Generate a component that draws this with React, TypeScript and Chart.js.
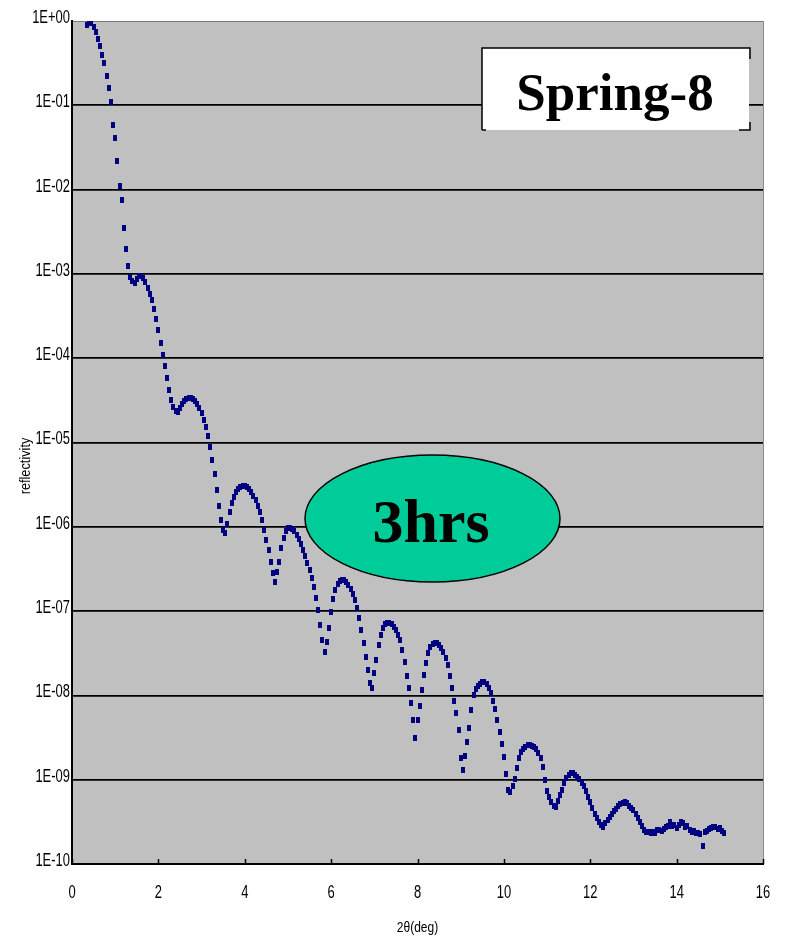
import { useEffect, useRef } from "react";
import { Chart, registerables } from "chart.js";

Chart.register(...registerables);

// Scan grid of the reflectivity measurement (degrees 2θ)
const ANGLE_START = 0.35;
const ANGLE_STEP = 0.05;

// Measured reflectivity, one row per degree of 2θ
const reflectivity: number[] = [
  // 0.35 – 0.95
  0.90, 1.0, 0.95, 0.85, 0.74, 0.61, 0.51, 0.40, 0.32, 0.22, 0.16, 0.11, 5.8e-2,
  // 1.00 – 1.95
  4.1e-2, 2.2e-2, 1.1e-2, 7.5e-3, 3.5e-3, 2.0e-3, 1.24e-3, 9.2e-4, 8.2e-4, 7.8e-4,
  8.7e-4, 9.4e-4, 9.4e-4, 8.9e-4, 8.0e-4, 6.8e-4, 5.8e-4, 4.9e-4, 3.85e-4, 2.9e-4,
  // 2.00 – 2.95
  2.17e-4, 1.52e-4, 1.1e-4, 8.1e-5, 5.8e-5, 4.2e-5, 3.2e-5, 2.64e-5, 2.37e-5, 2.3e-5,
  2.57e-5, 2.86e-5, 3.1e-5, 3.3e-5, 3.37e-5, 3.37e-5, 3.3e-5, 3.1e-5, 2.86e-5, 2.57e-5,
  // 3.00 – 3.95
  2.24e-5, 1.85e-5, 1.53e-5, 1.2e-5, 8.85e-6, 6.2e-6, 4.24e-6, 2.74e-6, 1.77e-6, 1.2e-6,
  9.2e-7, 8.45e-7, 1.08e-6, 1.5e-6, 1.92e-6, 2.26e-6, 2.6e-6, 2.81e-6, 2.97e-6, 3.05e-6,
  // 4.00 – 4.95
  3.05e-6, 2.97e-6, 2.81e-6, 2.6e-6, 2.32e-6, 2.08e-6, 1.77e-6, 1.5e-6, 1.2e-6, 9.2e-7,
  6.98e-7, 5.3e-7, 3.83e-7, 2.83e-7, 2.22e-7, 2.9e-7, 3.83e-7, 5.6e-7, 7.37e-7, 8.92e-7,
  // 5.00 – 5.95
  9.68e-7, 9.68e-7, 9.42e-7, 8.92e-7, 8.0e-7, 7.17e-7, 6.25e-7, 5.3e-7, 4.5e-7, 3.72e-7,
  3.07e-7, 2.47e-7, 1.93e-7, 1.43e-7, 1.03e-7, 6.84e-8, 4.54e-8, 3.27e-8, 4.3e-8, 6.3e-8,
  // 6.00 – 6.95
  9.75e-8, 1.39e-7, 1.78e-7, 2.1e-7, 2.27e-7, 2.34e-7, 2.34e-7, 2.22e-7, 2.04e-7, 1.83e-7,
  1.6e-7, 1.35e-7, 1.09e-7, 8.28e-8, 5.97e-8, 4.18e-8, 2.86e-8, 2.0e-8, 1.4e-8, 1.23e-8,
  // 7.00 – 7.95
  1.85e-8, 2.63e-8, 3.97e-8, 5.2e-8, 6.3e-8, 7.03e-8, 7.22e-8, 7.22e-8, 7.03e-8, 6.48e-8,
  5.97e-8, 5.2e-8, 4.54e-8, 3.45e-8, 2.49e-8, 1.7e-8, 1.23e-8, 8.12e-9, 5.1e-9, 3.12e-9,
  // 8.00 – 8.95
  5.1e-9, 7.48e-9, 1.16e-8, 1.75e-8, 2.42e-8, 3.18e-8, 3.75e-8, 4.07e-8, 4.18e-8, 4.18e-8,
  3.97e-8, 3.66e-8, 3.27e-8, 2.78e-8, 2.3e-8, 1.7e-8, 1.23e-8, 8.58e-9, 6.19e-9, 3.89e-9,
  // 9.00 – 9.95
  1.81e-9, 1.3e-9, 1.91e-9, 2.8e-9, 4.1e-9, 6.7e-9, 1.01e-8, 1.19e-8, 1.3e-8, 1.37e-8,
  1.44e-8, 1.44e-8, 1.37e-8, 1.23e-8, 1.07e-8, 8.58e-9, 6.9e-9, 5.1e-9, 3.68e-9, 2.65e-9,
  // 10.00 – 10.95
  1.86e-9, 1.17e-9, 7.55e-10, 7.15e-10, 8.4e-10, 1.02e-9, 1.38e-9, 1.81e-9, 2.14e-9, 2.32e-9,
  2.45e-9, 2.59e-9, 2.59e-9, 2.52e-9, 2.45e-9, 2.32e-9, 2.08e-9, 1.81e-9, 1.42e-9, 9.92e-10,
  // 11.00 – 11.95
  7.35e-10, 6.23e-10, 5.44e-10, 4.88e-10, 4.74e-10, 5.59e-10, 6.58e-10, 7.55e-10, 9.14e-10, 1.05e-9,
  1.14e-9, 1.2e-9, 1.2e-9, 1.14e-9, 1.08e-9, 1.02e-9, 9.14e-10, 8.4e-10, 7.35e-10, 6.23e-10,
  // 12.00 – 12.95
  5.44e-10, 4.61e-10, 3.92e-10, 3.52e-10, 3.15e-10, 2.9e-10, 2.75e-10, 3.06e-10, 3.33e-10, 3.61e-10,
  3.92e-10, 4.25e-10, 4.49e-10, 4.88e-10, 5.15e-10, 5.29e-10, 5.44e-10, 5.29e-10, 4.88e-10, 4.61e-10,
  // 13.00 – 13.95
  4.37e-10, 3.92e-10, 3.52e-10, 3.15e-10, 2.83e-10, 2.54e-10, 2.41e-10, 2.41e-10, 2.34e-10, 2.41e-10,
  2.34e-10, 2.54e-10, 2.54e-10, 2.47e-10, 2.61e-10, 2.75e-10, 2.83e-10, 3.15e-10, 2.83e-10, 2.9e-10,
  // 14.00 – 14.95
  2.68e-10, 2.9e-10, 3.15e-10, 3.06e-10, 2.75e-10, 2.83e-10, 2.54e-10, 2.41e-10, 2.47e-10, 2.34e-10,
  2.34e-10, 2.27e-10, 1.64e-10, 2.41e-10, 2.47e-10, 2.61e-10, 2.68e-10, 2.75e-10, 2.75e-10, 2.61e-10,
  // 15.00 – 15.10
  2.68e-10, 2.47e-10, 2.34e-10,
];

const X_TICKS = [0, 2, 4, 6, 8, 10, 12, 14, 16];
const Y_TICK_VALUES = [1, 1e-1, 1e-2, 1e-3, 1e-4, 1e-5, 1e-6, 1e-7, 1e-8, 1e-9, 1e-10];
const Y_TICK_LABELS = [
  "1E+00", "1E-01", "1E-02", "1E-03", "1E-04", "1E-05",
  "1E-06", "1E-07", "1E-08", "1E-09", "1E-10",
];

const X_TITLE = "2θ(deg)";
const Y_TITLE = "reflectivity";
const SOURCE_LABEL = "Spring-8";
const TIME_LABEL = "3hrs";

const SANS = "'Liberation Sans', Arial, sans-serif";
const SERIF = "'Liberation Serif', 'Times New Roman', serif";

// draws text squeezed horizontally, like the condensed axis lettering
function condensedText(
  ctx: CanvasRenderingContext2D,
  text: string,
  x: number,
  y: number,
  squeeze: number,
  align: CanvasTextAlign
) {
  ctx.save();
  ctx.translate(x, y);
  ctx.scale(squeeze, 1);
  ctx.textAlign = align;
  ctx.fillText(text, 0, 0);
  ctx.restore();
}

const frame = {
  id: "plotFrame",
  beforeDraw(chart: any) {
    const { ctx, chartArea: a } = chart;
    ctx.save();
    ctx.fillStyle = "#c0c0c0";
    ctx.fillRect(a.left, a.top, a.right - a.left, a.bottom - a.top);
    ctx.restore();
  },
  afterDraw(chart: any) {
    const { ctx, chartArea: a } = chart;
    const xs = chart.scales.x;
    const ys = chart.scales.y;
    ctx.save();

    // right edge of the plot area
    ctx.strokeStyle = "#8a8a8a";
    ctx.lineWidth = 1;
    ctx.beginPath();
    ctx.moveTo(a.right + 0.5, a.top);
    ctx.lineTo(a.right + 0.5, a.bottom);
    ctx.stroke();

    // inward tick marks on the x axis
    ctx.strokeStyle = "#000";
    ctx.lineWidth = 1.5;
    ctx.beginPath();
    X_TICKS.forEach((t) => {
      const px = Math.round(xs.getPixelForValue(t)) + 0.5;
      ctx.moveTo(px, a.bottom);
      ctx.lineTo(px, a.bottom - 5);
    });
    ctx.stroke();

    // tick labels
    ctx.fillStyle = "#000";
    ctx.textBaseline = "middle";
    ctx.font = `18px ${SANS}`;
    Y_TICK_VALUES.forEach((v, i) => {
      condensedText(ctx, Y_TICK_LABELS[i], a.left - 2, ys.getPixelForValue(v) - 3, 0.72, "right");
    });
    X_TICKS.forEach((t) => {
      condensedText(ctx, String(t), xs.getPixelForValue(t), 893, 0.72, "center");
    });

    // axis titles
    ctx.font = `15px ${SANS}`;
    condensedText(ctx, X_TITLE, (a.left + a.right) / 2, 928, 0.8, "center");
    ctx.save();
    ctx.translate(26, 466);
    ctx.rotate(-Math.PI / 2);
    condensedText(ctx, Y_TITLE, 0, 0, 0.85, "center");
    ctx.restore();

    // source label box
    ctx.fillStyle = "#fff";
    ctx.fillRect(482, 48, 267, 82);
    ctx.strokeStyle = "#000";
    ctx.lineWidth = 1.5;
    ctx.beginPath();
    ctx.moveTo(482, 130);
    ctx.lineTo(482, 48);
    ctx.lineTo(750, 48);
    ctx.lineTo(750, 59);
    ctx.moveTo(750, 122);
    ctx.lineTo(750, 130);
    ctx.lineTo(739, 130);
    ctx.moveTo(482, 130);
    ctx.lineTo(486, 130);
    ctx.stroke();
    ctx.fillStyle = "#000";
    ctx.font = `bold 53px ${SERIF}`;
    ctx.textAlign = "center";
    ctx.textBaseline = "alphabetic";
    ctx.fillText(SOURCE_LABEL, 615, 110);

    // measurement time ellipse
    ctx.beginPath();
    ctx.ellipse(432.5, 518.5, 127.5, 63.5, 0, 0, Math.PI * 2);
    ctx.fillStyle = "#00cc99";
    ctx.fill();
    ctx.lineWidth = 1.5;
    ctx.strokeStyle = "#000";
    ctx.stroke();
    ctx.fillStyle = "#000";
    ctx.font = `bold 62px ${SERIF}`;
    ctx.fillText(TIME_LABEL, 431, 542);

    ctx.restore();
  },
};

export default function App() {
  const canvasRef = useRef<HTMLCanvasElement | null>(null);

  useEffect(() => {
    const canvas = canvasRef.current;
    if (!canvas) return;

    // small upright dash used as the point marker
    const mark = document.createElement("canvas");
    mark.width = 4;
    mark.height = 6;
    const mctx = mark.getContext("2d")!;
    mctx.fillStyle = "#000080";
    mctx.fillRect(0, 0, 4, 6);

    const points = reflectivity.map((r, i) => ({
      x: +(ANGLE_START + i * ANGLE_STEP).toFixed(2),
      y: r,
    }));

    const chart = new Chart(canvas, {
      type: "scatter",
      data: {
        datasets: [
          {
            data: points,
            pointStyle: mark as any,
            pointRadius: 2,
            showLine: false,
          },
        ],
      },
      plugins: [frame],
      options: {
        responsive: false,
        animation: false,
        events: [],
        layout: { padding: { left: 0, top: 21, right: 24, bottom: 0 } },
        plugins: { legend: { display: false }, tooltip: { enabled: false } },
        scales: {
          x: {
            type: "linear",
            min: 0,
            max: 16,
            afterBuildTicks: (s: any) => {
              s.ticks = X_TICKS.map((v) => ({ value: v }));
            },
            afterFit: (s: any) => {
              s.height = 73;
            },
            grid: { display: false, drawTicks: false },
            border: { display: true, color: "#000", width: 2 },
            ticks: { display: false },
          },
          y: {
            type: "logarithmic",
            min: 1e-10,
            max: 1,
            afterBuildTicks: (s: any) => {
              s.ticks = [...Y_TICK_VALUES].reverse().map((v) => ({ value: v }));
            },
            afterFit: (s: any) => {
              s.width = 72;
            },
            grid: {
              drawTicks: false,
              color: (c: any) => (c.tick && c.tick.value === 1 ? "#7a7a7a" : "#000"),
              lineWidth: (c: any) => (c.tick && c.tick.value === 1 ? 1 : 1.8),
            },
            border: { display: true, color: "#000", width: 2 },
            ticks: { display: false },
          },
        },
      },
    });

    return () => chart.destroy();
  }, []);

  return (
    <div style={{ position: "absolute", left: 0, top: 0, width: 787, height: 937, background: "#fff" }}>
      <canvas ref={canvasRef} width={787} height={937} style={{ display: "block" }} />
    </div>
  );
}
